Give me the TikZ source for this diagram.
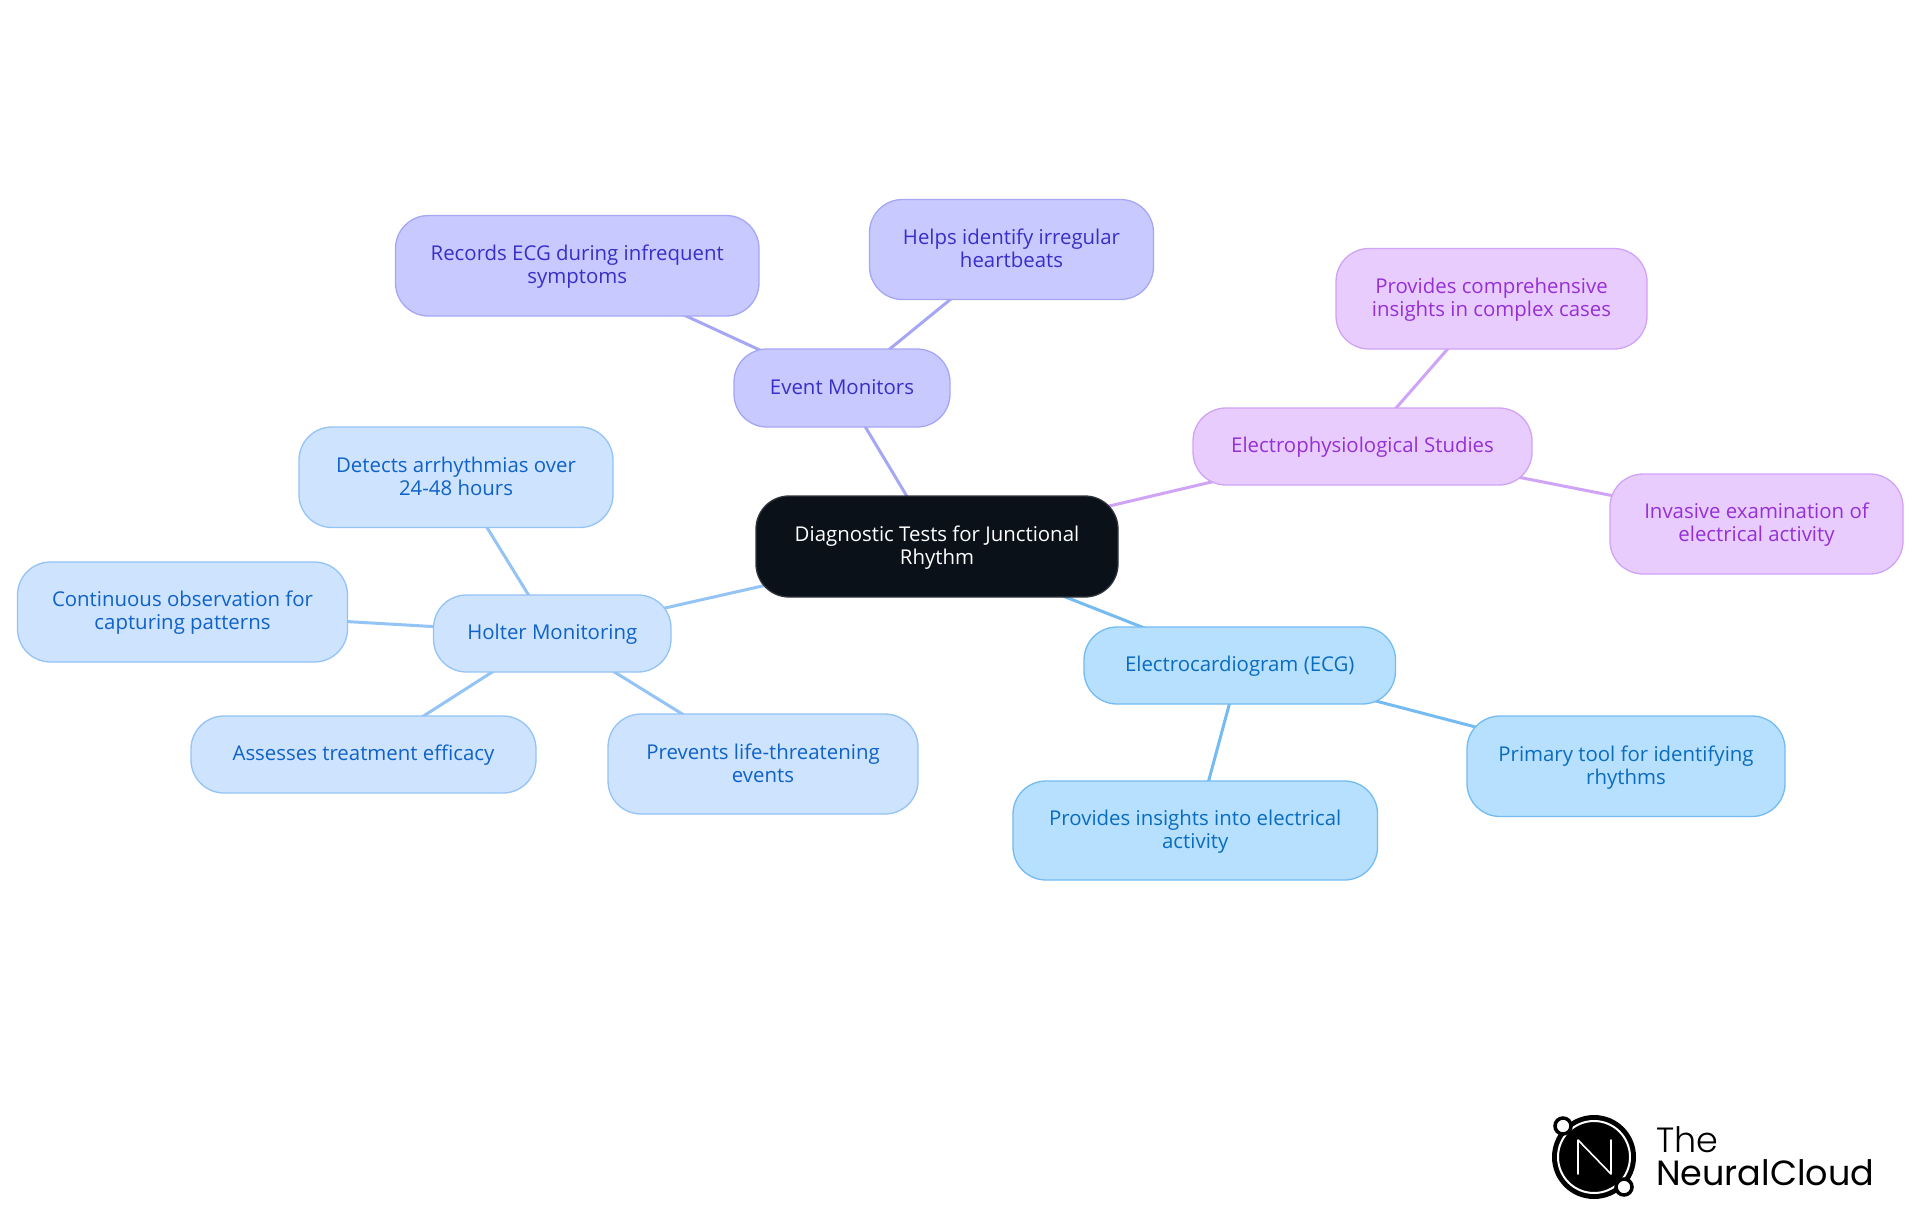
\documentclass[tikz,border=0pt]{standalone}
\usepackage{fontspec}
\setmainfont{Open Sans}
\newfontfamily\logofont[UprightFont=* Light]{Poppins}
\newfontfamily\logobold{Poppins}
\usetikzlibrary{backgrounds}
\definecolor{indF}{HTML}{C8C9FE}\definecolor{indS}{HTML}{A5A7F5}\definecolor{indT}{HTML}{3730C8}
\definecolor{purF}{HTML}{E9CCFE}\definecolor{purS}{HTML}{CFA3F5}\definecolor{purT}{HTML}{9430D6}
\definecolor{skyF}{HTML}{B6E0FE}\definecolor{skyS}{HTML}{74BBF2}\definecolor{skyT}{HTML}{0A6CBF}
\definecolor{bluF}{HTML}{CDE3FE}\definecolor{bluS}{HTML}{94C3F5}\definecolor{bluT}{HTML}{0F62C8}
\definecolor{cenF}{HTML}{0B1119}
\newcommand{\mst}{\rule[-4pt]{0pt}{21.4pt}}
\newcommand{\nl}{\mst\\\mst}
\tikzset{
 mm/.style={rounded corners=33pt,draw,line width=1.3pt,align=center,inner sep=0pt,outer sep=0pt,anchor=center,font=\fontsize{20.4}{23}\selectfont,execute at begin node=\mst,execute at end node=\mst},
 cen/.style={mm,fill=cenF,draw=cenF!85!white,text=white},
 ind/.style={mm,fill=indF,draw=indS,text=indT},
 pur/.style={mm,fill=purF,draw=purS,text=purT},
 sky/.style={mm,fill=skyF,draw=skyS,text=skyT},
 blu/.style={mm,fill=bluF,draw=bluS,text=bluT},
 linkline/.style={line width=3pt},
}
\newcommand{\bx}[6]{% style,name,x0,y0,x1,y1 then text
 \node[#1,minimum width=#5pt-#3pt,minimum height=#6pt-#4pt] (#2) at ({(#3+#5)/2},{(#4+#6)/2})}
\begin{document}
\begin{tikzpicture}[x=1pt,y=-1pt]
\useasboundingbox (0,0) rectangle (1920,1215);
\bx{cen}{c}{756}{496}{1118}{597}{Diagnostic Tests for Junctional\nl Rhythm};
\bx{ind}{ev}{734}{349}{950}{427}{Event Monitors};
\bx{ind}{ev1}{395.5}{215.5}{759}{316}{Records ECG during infrequent\nl symptoms};
\bx{ind}{ev2}{869.5}{199.5}{1153.5}{299.5}{Helps identify irregular\nl heartbeats};
\bx{pur}{ep}{1193}{408}{1532}{485}{Electrophysiological Studies};
\bx{pur}{ep1}{1336}{248.5}{1647}{349}{Provides comprehensive\nl insights in complex cases};
\bx{pur}{ep2}{1610}{474}{1903}{574}{Invasive examination of\nl electrical activity};
\bx{sky}{ecg}{1084}{627}{1395.5}{704}{Electrocardiogram (ECG)};
\bx{sky}{ecg1}{1467}{716}{1785}{816.5}{Primary tool for identifying\nl rhythms};
\bx{sky}{ecg2}{1013}{781}{1377.5}{880}{Provides insights into electrical\nl activity};
\bx{blu}{ho}{433.5}{595}{671}{672}{Holter Monitoring};
\bx{blu}{ho1}{299}{427}{613}{527.5}{Detects arrhythmias over\nl 24-48 hours};
\bx{blu}{ho2}{17.5}{562}{347.5}{662}{Continuous observation for\nl capturing patterns};
\bx{blu}{ho3}{191}{716}{536}{793}{Assesses treatment efficacy};
\bx{blu}{ho4}{608}{714}{918}{814}{Prevents life-threatening\nl events};
\begin{scope}[on background layer]
\draw[indS,linkline] (c.center)--(ev.center) (ev.center)--(ev1.center) (ev.center)--(ev2.center);
\draw[purS,linkline] (c.center)--(ep.center) (ep.center)--(ep1.center) (ep.center)--(ep2.center);
\draw[skyS,linkline] (c.center)--(ecg.center) (ecg.center)--(ecg1.center) (ecg.center)--(ecg2.center);
\draw[bluS,linkline] (c.center)--(ho.center) (ho.center)--(ho1.center) (ho.center)--(ho2.center) (ho.center)--(ho3.center) (ho.center)--(ho4.center);
\end{scope}
% logo
\fill[black] (1594,1157) circle (42);
\draw[white,line width=2pt] (1594,1157) circle (36);
\draw[white,line width=1.6pt,line join=round,line cap=round] (1578,1174)--(1578,1140)--(1611,1174)--(1611,1140);
\draw[black,fill=white,line width=3.5pt] (1563,1126) circle (8);
\draw[black,fill=white,line width=3.5pt] (1624,1187) circle (8);
\node[anchor=base west,inner sep=0pt,font=\logofont\fontsize{35}{35}\selectfont] (lt) at (1656,1152) {The};
\node[anchor=base west,inner sep=0pt,font=\logobold\fontsize{35}{35}\selectfont] (ln) at (1656,1185) {NeuralCloud};
\end{tikzpicture}
\end{document}
